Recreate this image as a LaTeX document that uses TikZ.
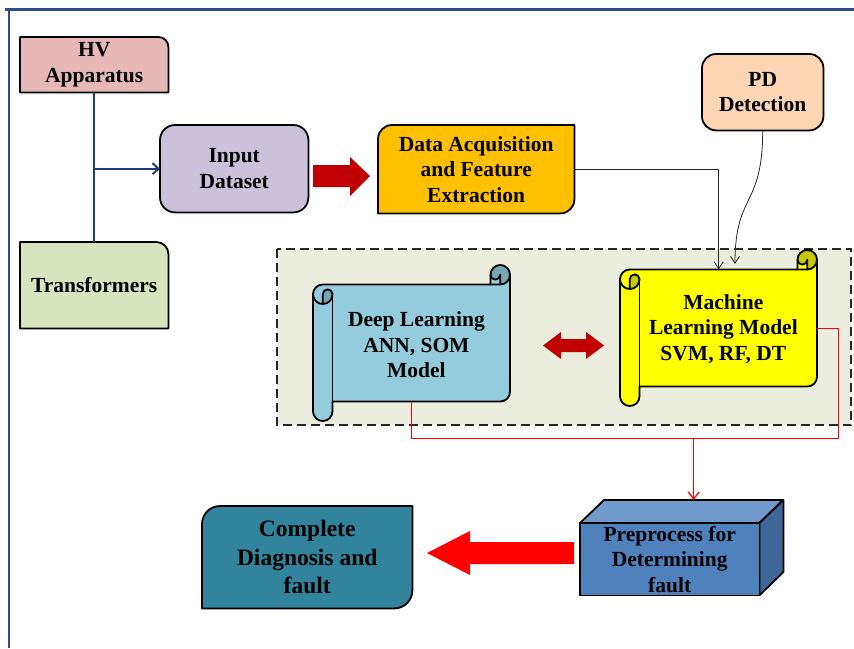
\documentclass[tikz,border=0pt]{standalone}
\usepackage{fontspec}
\setmainfont{Liberation Serif}
\usetikzlibrary{calc,arrows.meta}
\definecolor{hvc}{HTML}{E6B9B8}
\definecolor{trc}{HTML}{D7E4BD}
\definecolor{inc}{HTML}{CCC1DA}
\definecolor{daqc}{HTML}{FFC000}
\definecolor{pdc}{HTML}{FCD5B5}
\definecolor{grpc}{HTML}{EBEEDF}
\definecolor{dlc}{HTML}{93CDDD}
\definecolor{dldark}{HTML}{76A6B3}
\definecolor{mlc}{HTML}{FFFF00}
\definecolor{mldark}{HTML}{C8C800}
\definecolor{ppfront}{HTML}{4F81BD}
\definecolor{pptopc}{HTML}{7299CC}
\definecolor{ppside}{HTML}{3F6698}
\definecolor{cdc}{HTML}{31849B}
\definecolor{darkred}{HTML}{C00000}
\definecolor{brightred}{HTML}{FF0000}
\definecolor{navy}{HTML}{203A72}
\definecolor{framec}{HTML}{2F4D8C}
\pgfdeclarelayer{back}
\pgfdeclarelayer{shapes}
\pgfsetlayers{back,shapes,main}
% box with individually rounded corners: node, fill, r_tl, r_tr, r_br, r_bl
\newcommand{\cornerbox}[6]{%
 \path[boxline,fill=#2]
 ($(#1.north west)+(0,#3)$) .. controls ($(#1.north west)+(0,0.45*#3)$) and ($(#1.north west)+(0.45*#3,0)$) .. ($(#1.north west)+(#3,0)$)
 -- ($(#1.north east)+(-#4,0)$) .. controls ($(#1.north east)+(-0.45*#4,0)$) and ($(#1.north east)+(0,0.45*#4)$) .. ($(#1.north east)+(0,#4)$)
 -- ($(#1.south east)+(0,-#5)$) .. controls ($(#1.south east)+(0,-0.45*#5)$) and ($(#1.south east)+(-0.45*#5,0)$) .. ($(#1.south east)+(-#5,0)$)
 -- ($(#1.south west)+(#6,0)$) .. controls ($(#1.south west)+(0.45*#6,0)$) and ($(#1.south west)+(0,-0.45*#6)$) .. ($(#1.south west)+(0,-#6)$)
 -- cycle;}
% horizontal scroll: l t r b fill dark
\newcommand{\drawscroll}[6]{%
 \pgfmathsetmacro\zzL{#1}\pgfmathsetmacro\zzT{#2}%
 \pgfmathsetmacro\zzR{#3}\pgfmathsetmacro\zzB{#4}%
 \pgfmathsetmacro\zzC{min(\zzR-\zzL,\zzB-\zzT)/8}%
 \pgfmathsetmacro\zzH{\zzC/2}\pgfmathsetmacro\zzQ{\zzC/4}%
 \fill[#5] (\zzR,\zzT+\zzH) arc[start angle=0,delta angle=90,radius=\zzH]
   -- (\zzR-\zzH,\zzT+\zzH) arc[start angle=0,delta angle=180,radius=\zzQ]
   -- (\zzR-\zzC,\zzT+\zzC) -- (\zzL+\zzH,\zzT+\zzC)
   arc[start angle=270,delta angle=-90,radius=\zzH]
   -- (\zzL,\zzB-\zzH) arc[start angle=180,delta angle=-180,radius=\zzH]
   -- (\zzL+\zzC,\zzB-\zzC) -- (\zzR-\zzH,\zzB-\zzC)
   arc[start angle=90,delta angle=-90,radius=\zzH] -- cycle;
 \fill[#6] (\zzL+\zzH,\zzT+2*\zzC) arc[start angle=90,delta angle=-90,radius=\zzH]
   arc[start angle=0,delta angle=-180,radius=\zzQ] -- cycle;
 \fill[#6] (\zzR-\zzH,\zzT+\zzC) arc[start angle=90,delta angle=-270,radius=\zzH]
   arc[start angle=180,delta angle=-180,radius=\zzQ] -- cycle;
 \draw[scrline] (\zzL,\zzT+\zzC+\zzH) arc[start angle=180,delta angle=90,radius=\zzH]
   -- (\zzR-\zzC,\zzT+\zzC) -- (\zzR-\zzC,\zzT+\zzH)
   arc[start angle=180,delta angle=180,radius=\zzH]
   -- (\zzR,\zzB-\zzC-\zzH) arc[start angle=0,delta angle=90,radius=\zzH]
   -- (\zzL+\zzC,\zzB-\zzC) -- (\zzL+\zzC,\zzB-\zzH)
   arc[start angle=0,delta angle=180,radius=\zzH] -- cycle;
 \draw[scrline] (\zzR-\zzC,\zzT+\zzC) -- (\zzR-\zzH,\zzT+\zzC) arc[start angle=90,delta angle=-90,radius=\zzH];
 \draw[scrline] (\zzR-\zzH,\zzT+\zzC) -- (\zzR-\zzH,\zzT+\zzH) arc[start angle=0,delta angle=180,radius=\zzQ];
 \draw[scrline] (\zzL+\zzH,\zzT+2*\zzC) -- (\zzL+\zzH,\zzT+\zzC+\zzH)
   arc[start angle=180,delta angle=180,radius=\zzQ] arc[start angle=0,delta angle=180,radius=\zzH];
 \draw[scrline] (\zzL+\zzC,\zzT+\zzC+\zzH) -- (\zzL+\zzC,\zzB-\zzC);
}
\begin{document}
\begin{tikzpicture}[x=1pt,y=-1pt,
  txt/.style={font=\bfseries\fontsize{21.5}{25.5}\selectfont, align=center, inner sep=0pt},
  bigtxt/.style={font=\bfseries\fontsize{23.5}{28.5}\selectfont, align=center, inner sep=0pt},
  box/.style={inner sep=0pt, anchor=north west},
  boxline/.style={draw=black, line width=1.8pt, line join=round},
  scrline/.style={draw=black, line width=1.8pt, line join=round, line cap=round},
  blk/.style={draw=black!85, line width=0.8pt, -{Straight Barb[length=7pt,width=9pt]}},
  blu/.style={draw=navy, line width=2pt},
  redl/.style={draw=brightred, line width=1.3pt},
  framel/.style={draw=framec, line width=2.2pt}]
\useasboundingbox (0,0) rectangle (854,648);
% frame
\draw[framel] (5,9.5) -- (854,9.5);
\draw[framel] (9,9.5) -- (9,648);
% nodes
\node[box, txt, minimum width=148pt, minimum height=55pt] (hv) at (20,37) {HV\\Apparatus};
\node[box, txt, minimum width=148pt, minimum height=86pt] (tr) at (20,242) {Transformers};
\node[box, txt, minimum width=148pt, minimum height=87pt] (inp) at (160,125) {Input\\Dataset};
\node[box, txt, minimum width=196pt, minimum height=88pt] (daq) at (378,125) {Data Acquisition\\and Feature\\Extraction};
\node[box, txt, minimum width=121pt, minimum height=76pt] (pd) at (702,54) {PD\\Detection};
\node[box, minimum width=574pt, minimum height=176pt] (grp) at (277,249) {};
\node[box, minimum width=197pt, minimum height=156pt] (dl) at (313,265) {};
\node[txt] (dltext) at (416.4,345) {Deep Learning\\ANN, SOM\\Model};
\node[box, minimum width=197pt, minimum height=156pt] (ml) at (620,250) {};
\node[txt] (mltext) at (723.4,329) {Machine\\Learning Model\\SVM, RF, DT};
\node[box, txt, minimum width=179pt, minimum height=72pt] (pp) at (580,523) {Preprocess for\\Determining\\fault};
\node[box, bigtxt, minimum width=210pt, minimum height=102pt] (cd) at (202,506) {Complete\\Diagnosis and\\fault};
% background group
\begin{pgfonlayer}{back}
\fill[grpc] (grp.north west) rectangle (grp.south east);
\draw[draw=black!85, line width=2pt, dash pattern=on 9pt off 5pt] (grp.north west) rectangle (grp.south east);
\end{pgfonlayer}
% shapes
\begin{pgfonlayer}{shapes}
\cornerbox{hv}{hvc}{0}{10}{0}{0}
\cornerbox{tr}{trc}{0}{12}{0}{0}
\cornerbox{inp}{inc}{15}{15}{15}{15}
\cornerbox{daq}{daqc}{14}{0}{14}{0}
\cornerbox{pd}{pdc}{14}{14}{14}{14}
\cornerbox{cd}{cdc}{18}{0}{18}{0}
\drawscroll{313}{265}{510}{421}{dlc}{dldark}
\drawscroll{620}{250}{817}{406}{mlc}{mldark}
\path[boxline, fill=pptopc] (pp.north west) -- ++(24,-23) -- ++(179,0) -- (pp.north east) -- cycle;
\path[boxline, fill=ppside] (pp.north east) -- ++(24,-23) -- ++(0,72) -- (pp.south east) -- cycle;
\path[boxline, fill=ppfront] (pp.north west) rectangle (pp.south east);
\end{pgfonlayer}
% coordinates for connector ends
\coordinate (dlbot) at ($(dl.south)+(0,-19.5)$);
\coordinate (mltop) at ($(ml.north)+(0,19.5)$);
\coordinate (pptop) at ($(pp.north)+(24,-23)$);
\coordinate (pdend) at (735,264);
% connectors
\draw[blu] (hv.south) -- (tr.north);
\draw[blu, -{Straight Barb[length=6pt,width=11pt]}] (hv.south |- inp.west) -- (inp.west);
\draw[blk] (daq.east) -| (mltop);
\draw[blk] (pd.south) .. controls +(0,78) and +(0,-72) .. (pdend);
\draw[redl] (dlbot) -- ++(0,36.5) -| (pptop);
\draw[redl, -{Straight Barb[length=7pt,width=11pt]}] (ml.east) -| ($(ml.east)+(21,110)$) -| (pptop);
% block arrows
\fill[darkred] (313,165) -- (350,165) -- (350,157) -- (370,176) -- (350,196) -- (350,187) -- (313,187) -- cycle;
\fill[darkred] (543,345.5) -- (561,332) -- (561,339) -- (586,339) -- (586,332) -- (604,345.5) -- (586,359) -- (586,352) -- (561,352) -- (561,359) -- cycle;
\fill[brightred] (574,542) -- (470,542) -- (470,531) -- (427,553) -- (470,575) -- (470,564) -- (574,564) -- cycle;
\end{tikzpicture}
\end{document}
